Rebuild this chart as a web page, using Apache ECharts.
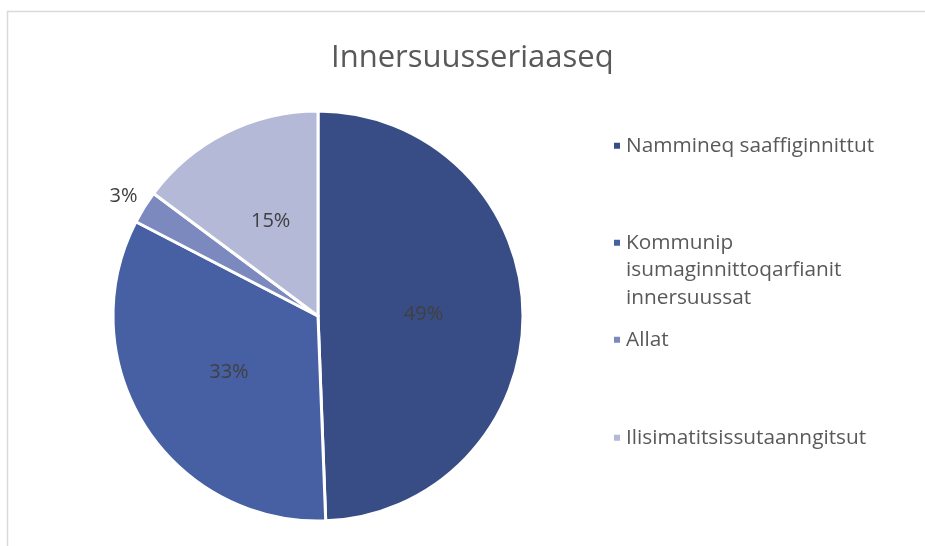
<!DOCTYPE html>
<html>
<head>
<meta charset="utf-8">
<script src="https://cdn.jsdelivr.net/npm/echarts@6/dist/echarts.min.js"></script>
<style>
html,body{margin:0;padding:0;background:#fff;}
#main{width:925px;height:546px;}
</style>
</head>
<body>
<div id="main"></div>
<script>
const titleText = 'Innersuusseriaaseq';
const categories = ['Nammineq saaffiginnittut', 'Kommunip isumaginnittoqarfianit innersuussat', 'Allat', 'Ilisimatitsissutaanngitsut'];
const legendLabels = ['Nammineq saaffiginnittut', '\n\nKommunip\nisumaginnittoqarfianit\ninnersuussat', 'Allat', 'Ilisimatitsissutaanngitsut'];
const values = [49.4, 33.2, 2.6, 14.8];
const colors = ['#384D85', '#4660A3', '#7B89BF', '#B3B9D7'];

const legendTops = [132, 174, 326, 424];

const chart = echarts.init(document.getElementById('main'));
const fontFamily = '"Open Sans", "Noto Sans", sans-serif';

const legends = categories.map((c, i) => ({
  data: [c],
  orient: 'vertical',
  left: 612,
  top: legendTops[i],
  padding: 0,
  icon: 'rect',
  itemWidth: 8,
  itemHeight: 8,
  itemGap: 5,
  selectedMode: false,
  formatter: () => legendLabels[i],
  textStyle: {
    color: '#595959',
    fontSize: 20.8,
    lineHeight: 27.5,
    fontFamily: fontFamily
  }
}));

const data = categories.map((c, i) => {
  const d = { name: c, value: values[i], itemStyle: { color: colors[i] } };
  if (i === 2) {
    d.label = { position: 'outside', distanceToLabelLine: -11 };
    d.labelLine = { show: false, length: 21, length2: 0 };
  }
  return d;
});

chart.setOption({
  backgroundColor: '#ffffff',
  animation: false,
  title: {
    text: titleText,
    left: 326,
    top: 38,
    textStyle: {
      color: '#595959',
      fontSize: 31,
      fontWeight: 'normal',
      fontFamily: fontFamily
    }
  },
  graphic: [{
    type: 'rect',
    shape: { x: 7.5, y: 11.5, width: 1000, height: 1000 },
    style: { fill: 'none', stroke: '#d9d9d9', lineWidth: 1.5 },
    silent: true,
    z: -10
  }],
  legend: legends,
  series: [{
    type: 'pie',
    center: [318, 316],
    radius: 205,
    startAngle: 90,
    clockwise: true,
    percentPrecision: 0,
    avoidLabelOverlap: false,
    itemStyle: { borderColor: '#ffffff', borderWidth: 3 },
    label: {
      show: true,
      position: 'inside',
      formatter: '{d}%',
      color: '#404040',
      fontSize: 20,
      fontFamily: fontFamily
    },
    labelLine: { show: false },
    emphasis: { disabled: true },
    data: data
  }]
});
</script>
</body>
</html>
